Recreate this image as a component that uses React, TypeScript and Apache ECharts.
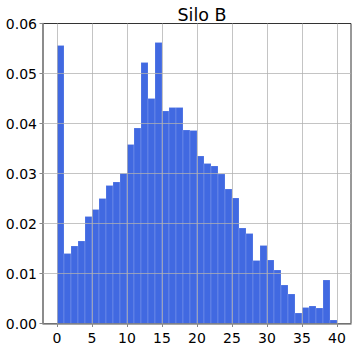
import React, { useEffect, useRef } from "react";
import * as echarts from "echarts";

const binEdges: number[] = [0, 1, 2, 3, 4, 5, 6, 7, 8, 9, 10, 11, 12, 13, 14, 15, 16, 17, 18, 19, 20, 21, 22, 23, 24, 25, 26, 27, 28, 29, 30, 31, 32, 33, 34, 35, 36, 37, 38, 39, 40];
const densities: number[] = [
  0.0556, 0.0140, 0.0155, 0.0165, 0.0214, 0.0228, 0.0250, 0.0276, 0.0283, 0.0300,
  0.0358, 0.0391, 0.0522, 0.0450, 0.0562, 0.0425, 0.0432, 0.0432, 0.0387, 0.0386,
  0.0335, 0.0320, 0.0315, 0.0299, 0.0269, 0.0251, 0.0191, 0.0180, 0.0126, 0.0156,
  0.0127, 0.0107, 0.0077, 0.0059, 0.0021, 0.0032, 0.0035, 0.0031, 0.0087, 0.0007,
];
const xTicks: number[] = [0, 5, 10, 15, 20, 25, 30, 35, 40];
const yTicks: number[] = [0.01, 0.02, 0.03, 0.04, 0.05];
const title = "Silo B";

const FONT = "DejaVu Sans";

export default function App() {
  const ref = useRef<HTMLDivElement>(null);
  useEffect(() => {
    if (!ref.current) return;
    const chart = echarts.init(ref.current, null, { renderer: "svg" });
    const data = densities.map((d, i) => [binEdges[i], binEdges[i + 1], d]);
    const gridLines = [
      ...xTicks.map((v) => ({ xAxis: v })),
      ...yTicks.map((v) => ({ yAxis: v })),
    ];
    chart.setOption({
      animation: false,
      title: {
        text: title,
        left: 197,
        textAlign: "center",
        top: 1,
        textStyle: { fontFamily: FONT, fontSize: 17.5, fontWeight: "normal", color: "#000" },
      },
      grid: {
        left: 43,
        top: 23.5,
        right: 6,
        bottom: 25.5,
        show: true,
        borderColor: "#333",
        borderWidth: 1,
        backgroundColor: "#fff",
      },
      xAxis: {
        type: "value",
        min: -2,
        max: 42,
        z: 4,
        axisLine: { show: true, onZero: false, lineStyle: { color: "#888", width: 1.5 } },
        axisTick: { show: true, inside: false, length: 3.5, customValues: xTicks, lineStyle: { color: "#888" } },
        axisLabel: { customValues: xTicks, margin: 7, fontFamily: FONT, fontSize: 14, color: "#000" },
        splitLine: { show: false },
      },
      yAxis: {
        type: "value",
        min: 0,
        max: 0.06,
        interval: 0.01,
        z: 4,
        axisLine: { show: true, onZero: false, lineStyle: { color: "#888", width: 1.5 } },
        axisTick: { show: true, inside: false, length: 3.5, lineStyle: { color: "#888" } },
        axisLabel: {
          margin: 6,
          fontFamily: FONT,
          fontSize: 14,
          color: "#000",
          formatter: (v: number) => v.toFixed(2),
        },
        splitLine: { show: false },
      },
      series: [
        {
          type: "custom",
          z: 2,
          encode: { x: [0, 1], y: 2 },
          data,
          renderItem: (params: any, api: any) => {
            const x0 = api.value(0);
            const x1 = api.value(1);
            const v = api.value(2);
            const p0 = api.coord([x0, v]);
            const p1 = api.coord([x1, 0]);
            return {
              type: "rect",
              shape: { x: p0[0], y: p0[1], width: p1[0] - p0[0], height: p1[1] - p0[1] },
              style: { fill: "#4169E1", stroke: "rgba(255,255,255,0.25)", lineWidth: 0.6 },
            };
          },
        },
        {
          type: "line",
          data: [],
          z: 3,
          silent: true,
          markLine: {
            silent: true,
            symbol: "none",
            label: { show: false },
            lineStyle: { color: "rgba(176,176,176,0.75)", type: "solid", width: 1 },
            emphasis: { disabled: true },
            data: gridLines,
          },
        },
      ],
    });
    return () => chart.dispose();
  }, []);
  return (
    <div
      ref={ref}
      style={{ position: "fixed", left: 0, top: 0, width: 357, height: 349, background: "#fff" }}
    />
  );
}
